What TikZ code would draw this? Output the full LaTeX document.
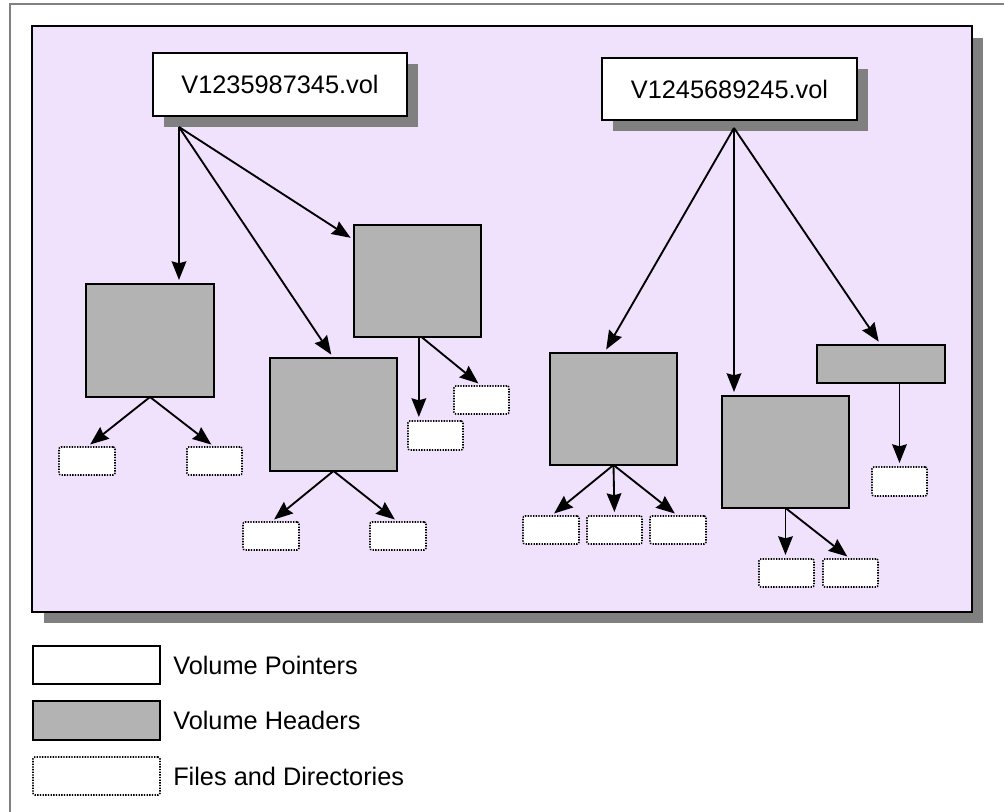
\documentclass[tikz,border=0pt]{standalone}
\usepackage{fontspec}
\setmainfont{Liberation Sans}
\usetikzlibrary{arrows.meta,fit,shadows}
\definecolor{panelfill}{RGB}{240,226,252}
\definecolor{hdrgray}{RGB}{179,179,179}
\definecolor{shadowgray}{RGB}{128,128,128}
\begin{document}
\begin{tikzpicture}[x=0.75pt,y=-0.75pt,
  box/.style={inner sep=0pt, outer sep=0pt, line width=1.3pt},
  pointer/.style={box, draw=black, fill=white,
    drop shadow={shadow xshift=8.25pt, shadow yshift=-8.25pt, fill=shadowgray, opacity=1}},
  header/.style={box, draw=black, fill=hdrgray},
  filebox/.style={box, draw=black, fill=white, line width=1.2pt,
    dash pattern=on 1pt off 1pt, rounded corners=1.5pt},
  link/.style={line width=1.4pt, -{Stealth[length=14pt,width=11pt,inset=1.5pt]}, shorten >=3pt},
  txt/.style={font=\fontsize{19}{23}\selectfont, inner sep=0pt}
]
\useasboundingbox (0,0) rectangle (1004,812);

% outer frame (top and left edges)
\draw[shadowgray, line width=1.3pt] (10,812) -- (10,4) -- (1004,4);

% panel with its shadow
\fill[shadowgray] (44,38) rectangle (983,623);
\draw[fill=panelfill, line width=1.3pt] (32,26) rectangle (972,612);

% volume pointers
\node[pointer, fit={(153,53)(407,116)}, label={[txt]center:V1235987345.vol}] (p1) {};
\node[pointer, fit={(602,58)(857,120)}, label={[txt]center:V1245689245.vol}] (p2) {};
\coordinate (o1) at (179,127);
\coordinate (o2) at (734,128);

% volume headers
\node[header, fit={(86,284)(214,397)}] (h1) {};
\node[header, fit={(270,358)(397,471)}] (h2) {};
\node[header, fit={(354,225)(481,337)}] (h3) {};
\node[header, fit={(550,353)(677,465)}] (h4) {};
\node[header, fit={(722,396)(849,508)}] (h5) {};
\node[header, fit={(817,345)(945,383)}] (h6) {};

% files and directories
\node[filebox, fit={(59,447)(115,475)}] (f1a) {};
\node[filebox, fit={(187,447)(242,475)}] (f1b) {};
\node[filebox, fit={(243,522)(299,550)}] (f2a) {};
\node[filebox, fit={(370,522)(426,550)}] (f2b) {};
\node[filebox, fit={(408,421)(463,450)}] (f3a) {};
\node[filebox, fit={(454,386)(509,414)}] (f3b) {};
\node[filebox, fit={(523,516)(579,544)}] (f4a) {};
\node[filebox, fit={(587,516)(642,544)}] (f4b) {};
\node[filebox, fit={(650,516)(706,544)}] (f4c) {};
\node[filebox, fit={(759,559)(814,587)}] (f5a) {};
\node[filebox, fit={(823,559)(878,587)}] (f5b) {};
\node[filebox, fit={(872,467)(927,496)}] (f6) {};

% pointer -> header links
\draw[link] (o1) -- (h1.north -| o1);
\draw[link] (o1) -- (h2.north);
\draw[link] (o1) -- ([yshift=-11.25pt]h3.north west);
\draw[link] (o2) -- ([xshift=-7pt]h4.north);
\draw[link] (o2) -- (h5.north -| o2);
\draw[link] (o2) -- (h6.north);

% header -> file links
\draw[link] (h1.south) -- (f1a.north);
\draw[link] (h1.south) -- (f1b.north);
\draw[link] (h2.south) -- (f2a.north);
\draw[link] (h2.south) -- (f2b.north);
\draw[link] ([xshift=1pt]h3.south) -- ([xshift=1pt]h3.south |- f3a.north);
\draw[link] ([xshift=3pt]h3.south) -- (f3b.north);
\draw[link] (h4.south) -- (f4a.north);
\draw[link] (h4.south) -- (f4b.north);
\draw[link] (h4.south) -- (f4c.north);
\draw[link] (h5.south) -- (h5.south |- f5a.north);
\draw[link] (h5.south) -- (f5b.north);
\draw[link] (f6.north |- h6.south) -- (f6.north);

% legend
\node[box, draw=black, fill=white, fit={(33,646)(160,684)}] (lp) {};
\node[header, fit={(33,701)(160,740)}] (lh) {};
\node[filebox, fit={(33,757)(160,795)}] (lf) {};
\node[txt, anchor=west] (tp) at ([xshift=9.75pt]lp.east) {Volume Pointers};
\node[txt, anchor=west] (th) at ([xshift=9.75pt]lh.east) {Volume Headers};
\node[txt, anchor=west] (tf) at ([xshift=9.75pt]lf.east) {Files and Directories};
\end{tikzpicture}
\end{document}
